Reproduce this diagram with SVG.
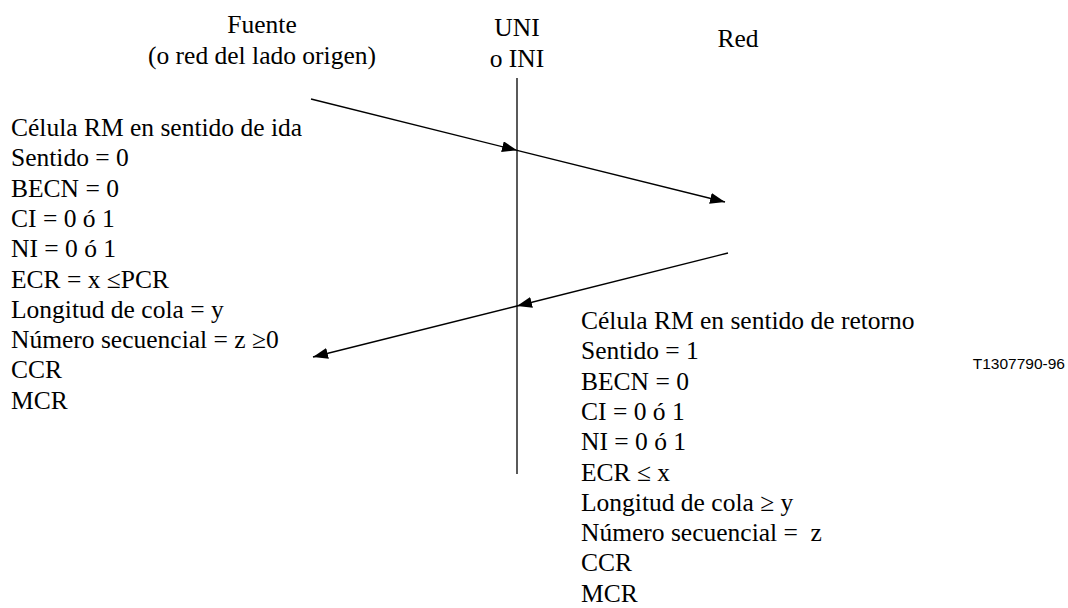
<svg xmlns="http://www.w3.org/2000/svg" width="1068" height="608" viewBox="0 0 1068 608">
<style>
  .t { font-family: "Liberation Serif", "Times New Roman", serif; font-size: 25.5px; fill: #000; }
  .c { text-anchor: middle; }
  .code { font-family: "Liberation Sans", Arial, sans-serif; font-size: 15.5px; fill: #000; text-anchor: end; }
  .ln { stroke: #000; stroke-width: 1.3; fill: none; }
</style>
<defs>
  <marker id="ah" markerUnits="userSpaceOnUse" viewBox="0 0 15 11" refX="15" refY="5.5" markerWidth="15" markerHeight="11" orient="auto">
    <path d="M0,0 L15,5.5 L0,11 z" fill="#000"/>
  </marker>
</defs>
<rect width="1068" height="608" fill="#fff"/>

<g id="fuente">
  <text class="t c" x="262" y="33">Fuente</text>
  <text class="t c" x="262" y="64">(o red del lado origen)</text>
</g>
<g id="uni">
  <text class="t c" x="517" y="36">UNI</text>
  <text class="t c" x="517" y="67">o INI</text>
  <line class="ln" x1="517" y1="78" x2="517" y2="474"/>
</g>
<g id="red">
  <text class="t c" x="738" y="47">Red</text>
</g>

<g id="connectors">
  <line class="ln" x1="311" y1="99" x2="517" y2="150.3" marker-end="url(#ah)"/>
  <line class="ln" x1="517" y1="150.3" x2="725" y2="202" marker-end="url(#ah)"/>
  <line class="ln" x1="728" y1="253" x2="517" y2="306" marker-end="url(#ah)"/>
  <line class="ln" x1="517" y1="306" x2="313" y2="357" marker-end="url(#ah)"/>
</g>

<g id="forward-cell">
  <text class="t" x="11" y="136">Célula RM en sentido de ida</text>
  <text class="t" x="11" y="166.3">Sentido = 0</text>
  <text class="t" x="11" y="196.6">BECN = 0</text>
  <text class="t" x="11" y="226.9">CI = 0 ó 1</text>
  <text class="t" x="11" y="257.2">NI = 0 ó 1</text>
  <text class="t" x="11" y="287.5">ECR = x ≤PCR</text>
  <text class="t" x="11" y="317.8">Longitud de cola = y</text>
  <text class="t" x="11" y="348.1">Número secuencial = z ≥0</text>
  <text class="t" x="11" y="378.4">CCR</text>
  <text class="t" x="11" y="408.7">MCR</text>
</g>

<g id="backward-cell">
  <text class="t" x="581" y="329">Célula RM en sentido de retorno</text>
  <text class="t" x="581" y="359.3">Sentido = 1</text>
  <text class="t" x="581" y="389.6">BECN = 0</text>
  <text class="t" x="581" y="419.9">CI = 0 ó 1</text>
  <text class="t" x="581" y="450.2">NI = 0 ó 1</text>
  <text class="t" x="581" y="480.5">ECR ≤ x</text>
  <text class="t" x="581" y="510.8">Longitud de cola ≥ y</text>
  <text class="t" x="581" y="541.1" xml:space="preserve">Número secuencial =  z</text>
  <text class="t" x="581" y="571.4">CCR</text>
  <text class="t" x="581" y="601.7">MCR</text>
</g>

<g id="figure-code">
  <text class="code" x="1065" y="369">T1307790-96</text>
</g>
</svg>
